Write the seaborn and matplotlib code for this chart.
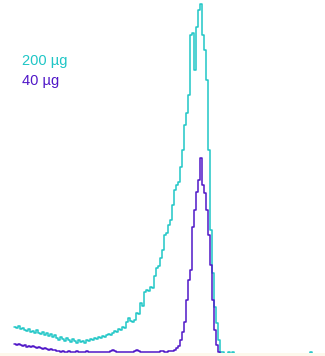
import matplotlib
matplotlib.use("Agg")
import matplotlib.pyplot as plt
import pandas as pd
import seaborn as sns

# counts per channel (channel 0 is the first bin)
cyan_counts = [
    27, 26, 28, 25, 26, 24, 23, 25, 22, 23, 21, 24, 21, 20, 22, 19, 21, 18, 20, 17,
    19, 16, 14, 17, 15, 13, 16, 14, 12, 15, 13, 11, 14, 12, 13, 11, 14, 13, 15, 14,
    16, 15, 17, 16, 18, 17, 19, 20, 19, 21, 23, 22, 25, 24, 27, 26, 32, 36, 33, 32,
    34, 41, 40, 51, 48, 62, 64, 63, 67, 66, 78, 86, 88, 96, 104, 119, 121, 129, 134, 149,
    164, 169, 172, 187, 204, 229, 241, 259, 319, 321, 284, 327, 344, 350, 319, 304, 274, 204, 124, 81,
    47, 31, 14, 2,
]
purple_counts = [
    10, 9, 10, 9, 8, 9, 7, 8, 7, 8, 7, 6, 7, 6, 5, 6, 5, 4, 5, 4,
    4, 3, 3, 2, 3, 2, 2, 3, 2, 2, 2, 3, 2, 2, 2, 2, 3, 2, 2, 2,
    2, 2, 2, 2, 2, 2, 2, 2, 3, 4, 3, 2, 2, 2, 2, 2, 2, 2, 2, 2,
    3, 4, 3, 2, 2, 2, 2, 2, 2, 2, 2, 2, 2, 3, 3, 2, 2, 3, 3, 3,
    4, 6, 8, 14, 22, 32, 54, 74, 84, 127, 144, 162, 174, 196, 169, 161, 144, 119, 89, 54,
    24, 9, 2,
]
# a few lone events past the peak
cyan_tail_channels = [104, 107, 109, 148]
cyan_tail_counts = [2, 2, 2, 2]

labels = ["200 \u00b5g", "40 \u00b5g"]
colors = ["#1fc6c6", "#5017c8"]

cyan = pd.DataFrame({
    "channel": list(range(len(cyan_counts))) + cyan_tail_channels,
    "count": cyan_counts + cyan_tail_counts,
})
purple = pd.DataFrame({
    "channel": list(range(len(purple_counts))),
    "count": purple_counts,
})
edges = list(range(0, 151))

sns.set_style("white")

fig = plt.figure(figsize=(3.25, 3.56), dpi=100)
fig.patch.set_facecolor("#fdf8ec")
ax = fig.add_axes([0, 3 / 356, 1, 353 / 356])
ax.set_facecolor("white")

sns.histplot(data=cyan, x="channel", weights="count", bins=edges,
             element="step", fill=False, color=colors[0], linewidth=1.1, ax=ax)
sns.histplot(data=purple, x="channel", weights="count", bins=edges,
             element="step", fill=False, color=colors[1], linewidth=1.1, ax=ax)

ax.set_xlim(-7, 155.5)
ax.set_ylim(1, 354)
ax.set_xticks([])
ax.set_yticks([])
ax.set_xlabel("")
ax.set_ylabel("")
sns.despine(ax=ax, left=True, bottom=True)

fig.text(22 / 325, 1 - 65 / 356, labels[0], color=colors[0],
         family="Liberation Sans", fontsize=10.5, va="baseline")
fig.text(22 / 325, 1 - 85 / 356, labels[1], color=colors[1],
         family="Liberation Sans", fontsize=10.5, va="baseline")

fig.savefig("out.png", dpi=100, facecolor=fig.get_facecolor())
